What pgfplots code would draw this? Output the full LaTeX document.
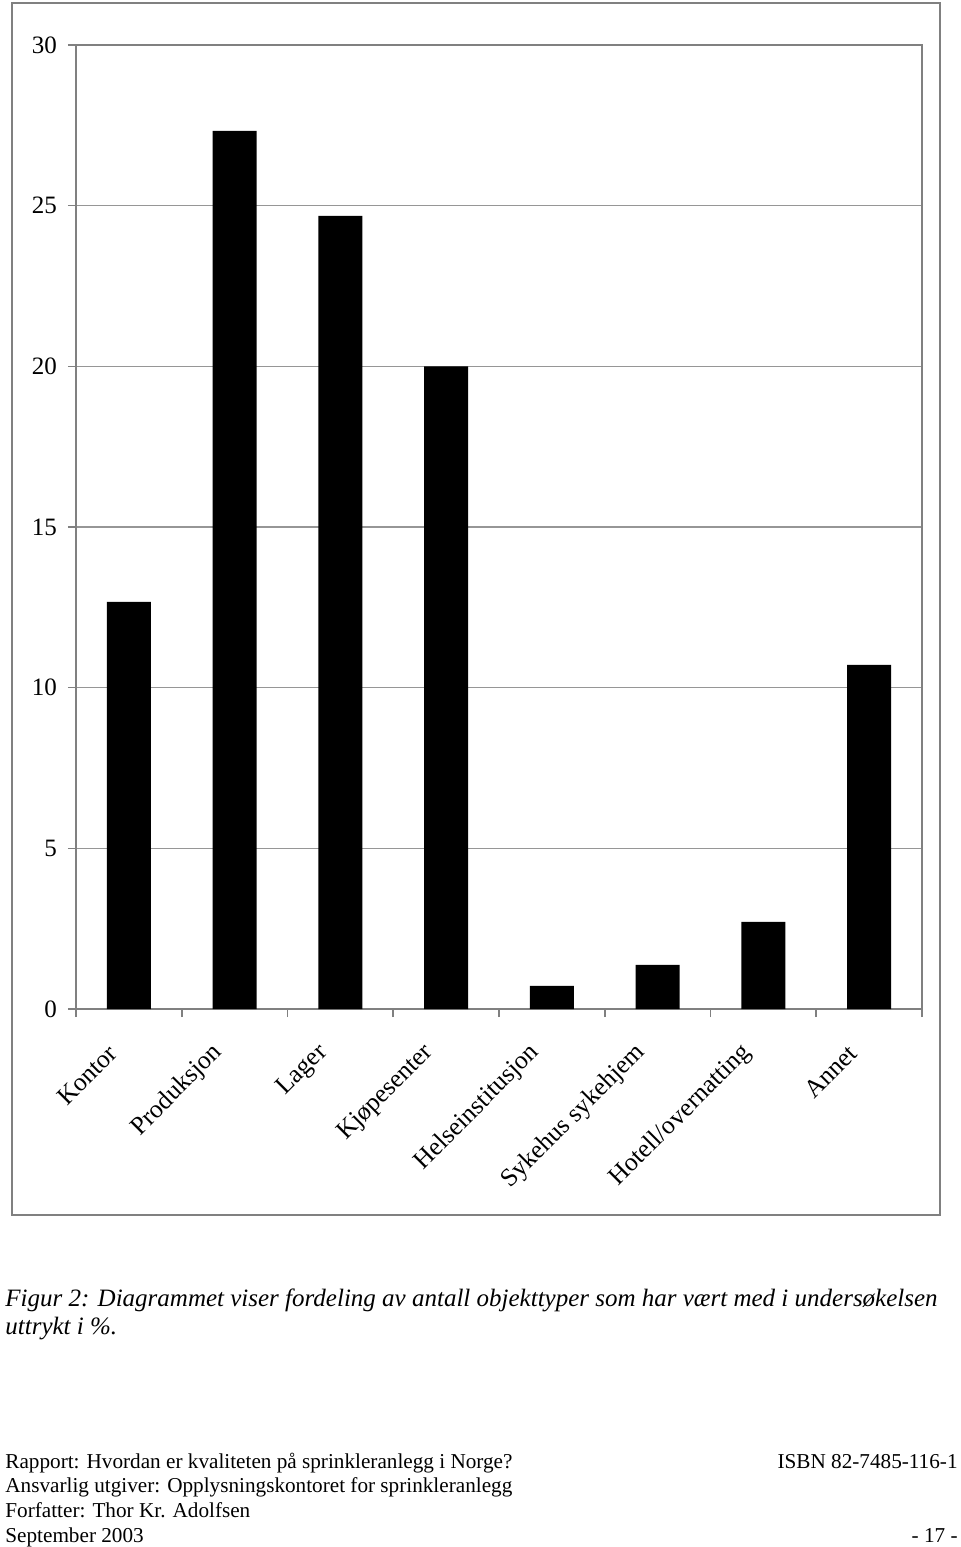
\documentclass[border=0pt]{standalone}
\usepackage{pgfplots}
\pgfplotsset{compat=1.18}
\usepackage{fontspec}
\setmainfont{Liberation Serif}

\definecolor{axisgray}{RGB}{128,128,128}
\definecolor{gridgray}{RGB}{150,150,150}

\begin{document}
\begin{tikzpicture}
% picture frame: 1px of the reference = 0.5pt
\useasboundingbox (-38pt,-269pt) rectangle (442pt,504.5pt);
\draw[axisgray, line width=1pt] (-32pt,-103pt) rectangle (432pt,503pt);

\begin{axis}[
    scale only axis,
    width=423pt,
    height=482pt,
    ybar,
    bar width=22pt,
    xmin=0, xmax=8,
    ymin=0, ymax=30,
    ytick={0,5,...,30},
    ymajorgrids,
    grid style={gridgray, line width=0.7pt},
    axis line style={axisgray, line width=1pt},
    tick style={axisgray, line width=0.8pt},
    tick align=outside,
    major tick length=4pt,
    xtick pos=bottom, ytick pos=left,
    xtick={0,1,...,8},
    xticklabels={},
    extra x ticks={0.5,1.5,...,7.5},
    extra x tick labels={Kontor,Produksjon,Lager,Kjøpesenter,Helseinstitusjon,Sykehus sykehjem,Hotell/overnatting,Annet},
    extra x tick style={major tick length=0pt, grid=none,
        xticklabel style={rotate=45, anchor=east, font=\fontsize{12.8}{15}\selectfont, xshift=-16.5pt, yshift=-8.5pt}},
    yticklabel style={font=\fontsize{12.5}{15}\selectfont, xshift=-2pt},
    /pgf/number format/assume math mode=true,
]
\addplot[fill=black, draw=none] coordinates {
    (0.5,12.67) (1.5,27.33) (2.5,24.68) (3.5,20.0)
    (4.5,0.72) (5.5,1.37) (6.5,2.71) (7.5,10.71)};
\end{axis}

\begin{scope}[every node/.style={inner sep=0pt}]
\node[anchor=base west, font=\fontsize{12.5}{14}\selectfont\itshape] at (-35.5pt,-148.5pt)
  {Figur 2: Diagrammet viser fordeling av antall objekttyper som har vært med i undersøkelsen};
\node[anchor=base west, font=\fontsize{12.5}{14}\selectfont\itshape] at (-35.5pt,-162.5pt)
  {uttrykt i \%.};
\node[anchor=base west, font=\fontsize{10.6}{12}\selectfont] at (-35.5pt,-229.5pt)
  {Rapport: Hvordan er kvaliteten på sprinkleranlegg i Norge?};
\node[anchor=base west, font=\fontsize{10.6}{12}\selectfont] at (-35.5pt,-241.5pt)
  {Ansvarlig utgiver: Opplysningskontoret for sprinkleranlegg};
\node[anchor=base west, font=\fontsize{10.6}{12}\selectfont] at (-35.5pt,-254pt)
  {Forfatter: Thor Kr. Adolfsen};
\node[anchor=base west, font=\fontsize{10.6}{12}\selectfont] at (-35.5pt,-266.5pt)
  {September 2003};
\node[anchor=base east, font=\fontsize{10.6}{12}\selectfont] at (441pt,-229.5pt)
  {ISBN 82-7485-116-1};
\node[anchor=base east, font=\fontsize{10.6}{12}\selectfont] at (441pt,-266.5pt)
  {- 17 -};
\end{scope}
\end{tikzpicture}
\end{document}
